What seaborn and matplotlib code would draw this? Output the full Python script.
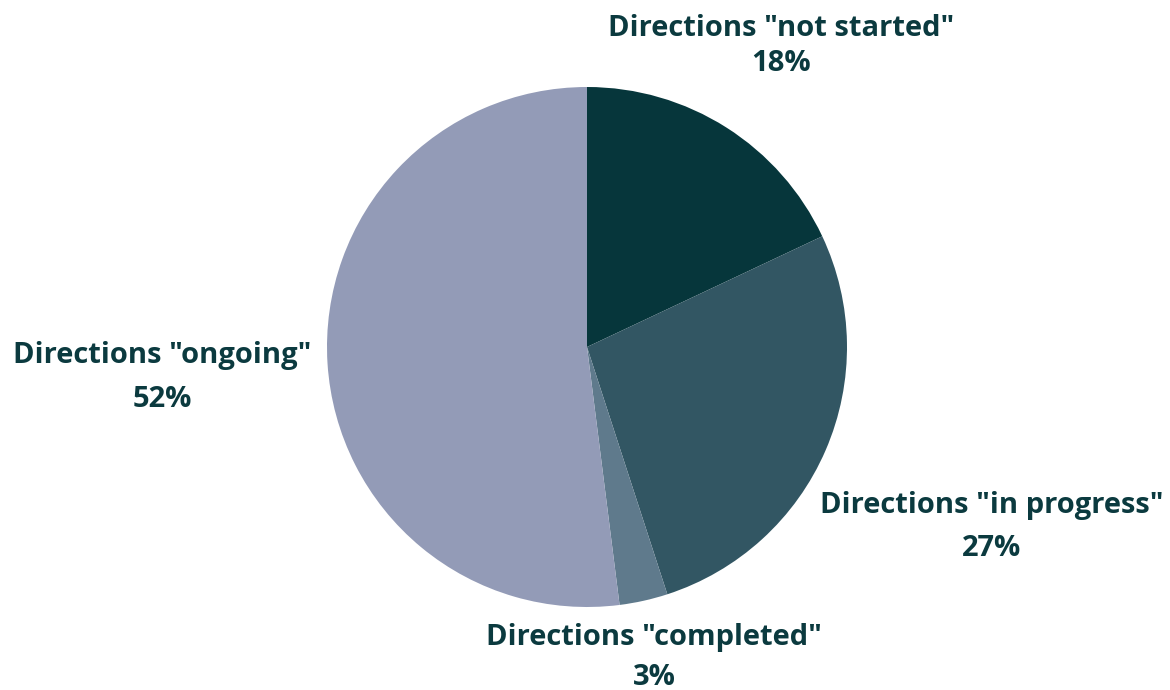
import matplotlib
matplotlib.use("Agg")
import matplotlib.pyplot as plt
import seaborn as sns

categories = ['Directions "not started"', 'Directions "in progress"',
              'Directions "completed"', 'Directions "ongoing"']
shares = [18, 27, 3, 52]
colors = ["#06363b", "#325663", "#5f7a8c", "#939bb7"]

sns.set_theme(style="white")
plt.rcParams["font.family"] = ["Open Sans", "DejaVu Sans"]

W, H = 1170, 690
fig = plt.figure(figsize=(W / 100, H / 100), dpi=100)
ax = fig.add_axes([0, 0, 1, 1])

cx, cy, r = 587, H - 347, 260
ax.pie(shares, colors=colors, startangle=90, counterclock=False,
       center=(cx, cy), radius=r, frame=True,
       wedgeprops=dict(linewidth=0))
ax.set_xlim(0, W)
ax.set_ylim(0, H)
ax.set_aspect("equal")
ax.axis("off")

# label placement: (x centre, baseline of name line, baseline of percent line), pixels from top
label_pos = [(781, 36, 71), (992, 513, 556), (654, 645, 685), (162, 363, 407)]
text_kw = dict(ha="center", va="baseline", fontsize=21, fontweight="bold",
               color="#0b3a3f")
for name, val, (lx, y1, y2) in zip(categories, shares, label_pos):
    ax.text(lx, H - y1, name, **text_kw)
    ax.text(lx, H - y2, f"{val}%", **text_kw)

fig.savefig("out.png", dpi=100)
